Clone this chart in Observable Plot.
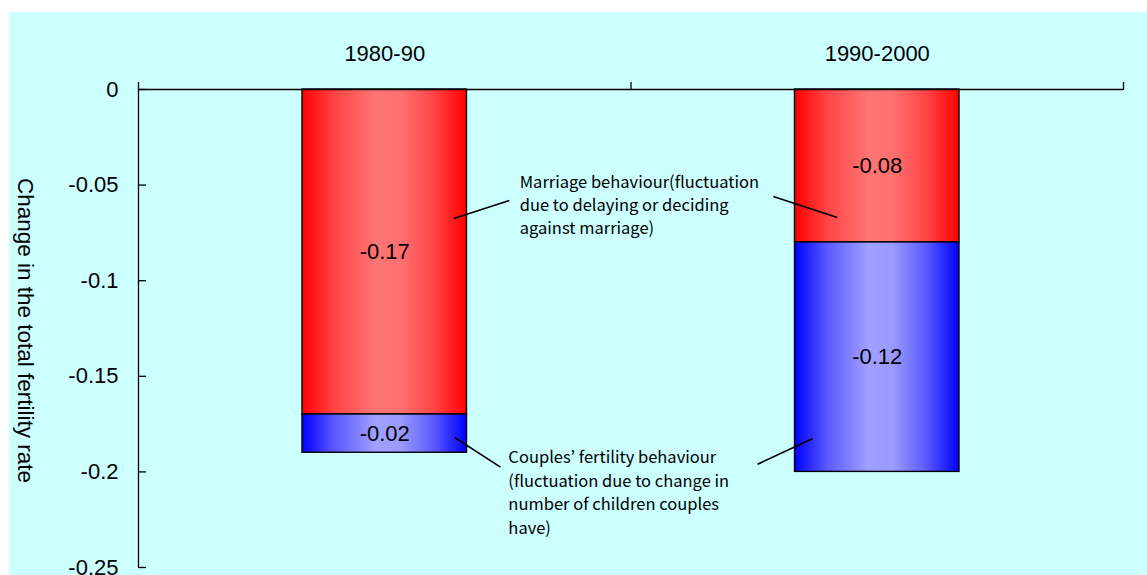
<!DOCTYPE html>
<html>
<head>
<meta charset="utf-8">
<script src="https://cdn.jsdelivr.net/npm/d3@7"></script>
<script src="https://cdn.jsdelivr.net/npm/@observablehq/plot@0.6"></script>
<style>
  html, body { margin: 0; padding: 0; background: #ffffff; overflow: hidden; width: 1147px; height: 575px; }
  #panel { position: absolute; left: 9px; top: 12px; width: 1138px; height: 563px; background: #CCFFFF; overflow: hidden; }
</style>
</head>
<body>
<div id="panel"></div>
<script>
// ---- data ----
const categories = ["1980-90", "1990-2000"];
const marriageValues = [-0.17, -0.08];
const coupleValues = [-0.02, -0.12];
const yTicks = [0, -0.05, -0.1, -0.15, -0.2, -0.25];
const yTickLabels = ["0", "-0.05", "-0.1", "-0.15", "-0.2", "-0.25"];
const yTitle = "Change in the total fertility rate";
const noteTexts = [
  "Marriage behaviour(fluctuation\ndue to delaying or deciding\nagainst marriage)",
  "Couples\u2019 fertility behaviour\n(fluctuation due to change in\nnumber of children couples\nhave)"
];
// annotation anchor points (x in category units, y in data units)
const noteX = [0.774, 0.751];
const noteY = [-0.0596, -0.21];
// leader lines: [x1, y1, x2, y2]
const leaderX1 = [0.640, 1.289, 0.642, 1.257];
const leaderY1 = [-0.0675, -0.056, -0.182, -0.196];
const leaderX2 = [0.753, 1.419, 0.735, 1.369];
const leaderY2 = [-0.058, -0.067, -0.1975, -0.1825];

// ---- build tables ----
const halfBar = 0.167;
const segs = categories.map((c, i) => ({cat: c, x: i + 0.5, m: marriageValues[i], c: coupleValues[i]}));
const leaders = leaderX1.map((d, i) => ({x1: d, y1: leaderY1[i], x2: leaderX2[i], y2: leaderY2[i]}));
const notes = noteTexts.map((t, i) => ({text: t, x: noteX[i], y: noteY[i]}));

const chart = Plot.plot({
  width: 1138,
  height: 600,
  marginLeft: 129,
  marginRight: 24,
  marginTop: 77,
  marginBottom: 45,
  x: {domain: [0, 2], axis: null},
  y: {domain: [-0.25, 0], axis: null},
  style: {background: "transparent", fontFamily: "'Liberation Sans', Arial, sans-serif", fontSize: "22px", color: "black", overflow: "visible"},
  marks: [
    Plot.rect(segs, {x1: d => d.x - halfBar, x2: d => d.x + halfBar, y1: 0, y2: d => d.m, fill: "url(#gradRed)", stroke: "black", strokeWidth: 1.4}),
    Plot.rect(segs, {x1: d => d.x - halfBar, x2: d => d.x + halfBar, y1: d => d.m, y2: d => d.m + d.c, fill: "url(#gradBlue)", stroke: "black", strokeWidth: 1.4}),
    Plot.ruleY([0], {stroke: "black", strokeWidth: 1.3}),
    Plot.ruleX([0], {y1: -0.25, y2: 0, stroke: "black", strokeWidth: 1.3}),
    Plot.axisX([0, 1, 2], {anchor: "top", tickSize: 8, tickFormat: () => "", label: null, strokeWidth: 1.3}),
    Plot.axisY(yTicks, {anchor: "left", tickSize: 8, dx: 8, tickFormat: () => "", label: null, strokeWidth: 1.3}),
    Plot.axisY(yTicks, {anchor: "left", tickSize: 0, tickPadding: 20, tickFormat: d => yTickLabels[yTicks.indexOf(d)], label: null, fontSize: 22}),
    Plot.text(segs, {x: "x", y: 0, dy: -36, text: "cat", fontSize: 22}),
    Plot.text(segs, {x: "x", y: d => d.m / 2, text: d => `${d.m}`, fontSize: 22}),
    Plot.text(segs, {x: "x", y: d => d.m + d.c / 2, text: d => `${d.c}`, fontSize: 22}),
    Plot.link(leaders, {x1: "x1", y1: "y1", x2: "x2", y2: "y2", stroke: "black", strokeWidth: 1.6}),
    Plot.text(notes, {x: "x", y: "y", text: "text", textAnchor: "start", lineAnchor: "middle", lineHeight: 1.42, fontFamily: "'Noto Sans CJK JP', sans-serif", fontSize: 16.5}),
    Plot.text([yTitle], {frameAnchor: "left", textAnchor: "middle", rotate: 90, dx: -113, dy: 2, text: d => d, fontSize: 22.5})
  ]
});

// gradient definitions
const defs = d3.select(chart).insert("defs", ":first-child");
const red = defs.append("linearGradient").attr("id", "gradRed").attr("x1", 0).attr("x2", 1).attr("y1", 0).attr("y2", 0);
[[0, "#ff0000"], [0.2, "#ff4545"], [0.45, "#ff7575"], [0.6, "#ff7070"], [0.8, "#ff4545"], [1, "#ff0000"]]
  .forEach(([o, c]) => red.append("stop").attr("offset", o).attr("stop-color", c));
const blue = defs.append("linearGradient").attr("id", "gradBlue").attr("x1", 0).attr("x2", 1).attr("y1", 0).attr("y2", 0);
[[0, "#0000ff"], [0.2, "#5a5aff"], [0.45, "#a0a0ff"], [0.6, "#9a9aff"], [0.8, "#5a5aff"], [1, "#0000ff"]]
  .forEach(([o, c]) => blue.append("stop").attr("offset", o).attr("stop-color", c));

document.getElementById("panel").appendChild(chart);
</script>
</body>
</html>
